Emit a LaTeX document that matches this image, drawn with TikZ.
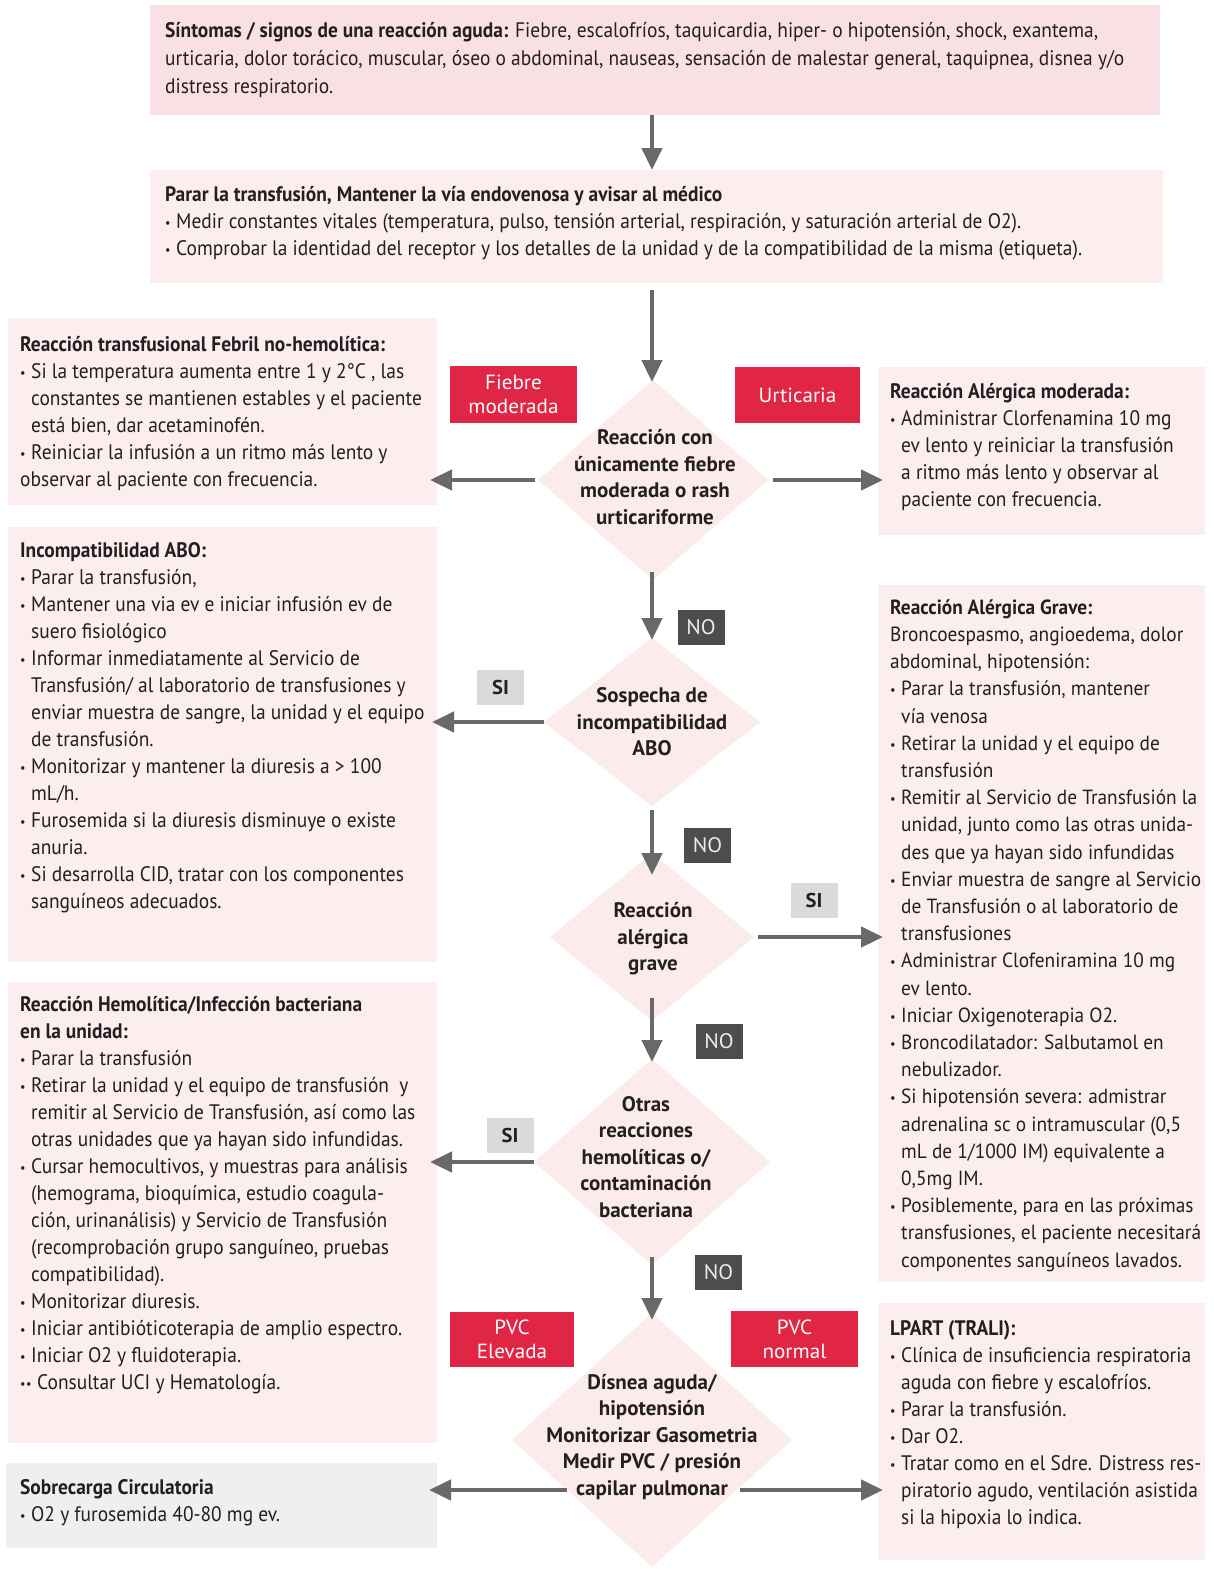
\documentclass[tikz,border=0pt]{standalone}
\usepackage{fontspec}
\setmainfont[FakeStretch=0.925]{PT Sans}
\newfontfamily\widefont[FakeStretch=0.943]{PT Sans}
\newfontfamily\diafont[FakeStretch=1.0]{PT Sans}
\newfontfamily\labfont[FakeStretch=1.03]{PT Sans}
\usetikzlibrary{shapes.geometric,arrows.meta}
\definecolor{pinkA}{RGB}{249,224,228}
\definecolor{pinkB}{RGB}{252,237,238}
\definecolor{dia}{RGB}{251,235,235}
\definecolor{grayB}{RGB}{239,239,239}
\definecolor{redL}{RGB}{225,37,68}
\definecolor{noL}{RGB}{77,77,77}
\definecolor{siL}{RGB}{218,218,218}
\definecolor{arrc}{RGB}{105,105,107}
\definecolor{ink}{RGB}{35,31,32}
\newcommand\bl{\makebox[11pt][l]{\raisebox{1pt}{\fontsize{13}{13}\selectfont\textbullet}}}
\newcommand\ind{\hspace*{11pt}}
\tikzset{
  box/.style={inner sep=0pt, outer sep=0pt, anchor=north west, fill=pinkB},
  txt/.style={anchor=north west, align=left, inner sep=0pt, text=ink, font=\fontsize{21}{27}\selectfont},
  ttxt/.style={txt, font=\fontsize{21}{28}\selectfont},
  wtxt/.style={txt, font=\widefont\fontsize{20.5}{27.2}\selectfont},
  diam/.style={diamond, fill=dia, inner sep=0pt, outer sep=0pt},
  dtxt/.style={align=center, inner sep=0pt, text=ink, font=\diafont\bfseries\fontsize{21}{26.5}\selectfont},
  redlab/.style={fill=redL, text=white, inner sep=0pt, align=center, font=\labfont\fontsize{20.5}{24}\selectfont},
  nolab/.style={fill=noL, text=white!92!black, inner sep=0pt, minimum width=47pt, minimum height=35pt, font=\labfont\fontsize{21}{24}\selectfont},
  silab/.style={fill=siL, text=ink, inner sep=0pt, minimum width=47pt, minimum height=35pt, font=\labfont\bfseries\fontsize{20}{24}\selectfont},
  arr/.style={draw=arrc, line width=4.5pt, -{Triangle[length=22pt,width=20pt]}}
}
\begin{document}
\begin{tikzpicture}[x=1pt,y=-1pt]
\useasboundingbox[fill=white] (0,0) rectangle (1213,1569);

% boxes
\node[box, fill=pinkA, minimum width=1010pt, minimum height=110pt] (top) at (150,5) {};
\node[box, minimum width=1013pt, minimum height=113pt] (second) at (150,170) {};
\node[box, minimum width=429pt, minimum height=187pt] (b1) at (8,318) {};
\node[box, minimum width=327pt, minimum height=168pt] (r1) at (878,367) {};
\node[box, minimum width=429pt, minimum height=435pt] (b2) at (8,527) {};
\node[box, minimum width=327pt, minimum height=697pt] (r2) at (878,585) {};
\node[box, minimum width=429pt, minimum height=461pt] (b3) at (8,982) {};
\node[box, fill=grayB, minimum width=431pt, minimum height=85pt] (b4) at (6,1463) {};
\node[box, minimum width=327pt, minimum height=257pt] (r3) at (878,1303) {};

% diamonds
\node[diam, minimum width=230pt, minimum height=200pt] (d1) at (653,480) {};
\node[diam, minimum width=216pt, minimum height=168pt] (d2) at (652,722) {};
\node[diam, minimum width=204pt, minimum height=168pt] (d3) at (652,937) {};
\node[diam, minimum width=236pt, minimum height=206pt] (d4) at (652,1162) {};
\node[diam, minimum width=280pt, minimum height=254pt] (d5) at (652,1440) {};

% texts
\node[ttxt] (ttop) at (165,18) {\strut\textbf{Síntomas / signos de una reacción aguda:} Fiebre, escalofríos, taquicardia, hiper- o hipotensión, shock, exantema,\\
urticaria, dolor torácico, muscular, óseo o abdominal, nauseas, sensación de malestar general, taquipnea, disnea y/o\\
distress respiratorio.};

\node[txt] (tsecond) at (165,182) {\strut\textbf{Parar la transfusión, Mantener la vía endovenosa y avisar al médico}\\
\bl Medir constantes vitales (temperatura, pulso, tensión arterial, respiración, y saturación arterial de O2).\\
\bl Comprobar la identidad del receptor y los detalles de la unidad y de la compatibilidad de la misma (etiqueta).};

\node[txt] (tb1) at (20,332) {\strut\textbf{Reacción transfusional Febril no-hemolítica:}\\
\bl Si la temperatura aumenta entre 1 y 2°C , las\\
\ind constantes se mantienen estables y el paciente\\
\ind está bien, dar acetaminofén.\\
\bl Reiniciar la infusión a un ritmo más lento y\\
observar al paciente con frecuencia.};

\node[txt] (tr1) at (890,379) {\strut\textbf{Reacción Alérgica moderada:}\\
\bl Administrar Clorfenamina 10 mg\\
\ind ev lento y reiniciar la transfusión\\
\ind a ritmo más lento y observar al\\
\ind paciente con frecuencia.};

\node[txt] (tb2) at (20,538) {\strut\textbf{Incompatibilidad ABO:}\\
\bl Parar la transfusión,\\
\bl Mantener una via ev e iniciar infusión ev de\\
\ind suero fisiológico\\
\bl Informar inmediatamente al Servicio de\\
\ind Transfusión/ al laboratorio de transfusiones y\\
\ind enviar muestra de sangre, la unidad y el equipo\\
\ind de transfusión.\\
\bl Monitorizar y mantener la diuresis a > 100\\
\ind mL/h.\\
\bl Furosemida si la diuresis disminuye o existe\\
\ind anuria.\\
\bl Si desarrolla CID, tratar con los componentes\\
\ind sanguíneos adecuados.};

\node[wtxt] (tr2) at (890,595) {\strut\textbf{Reacción Alérgica Grave:}\\
Broncoespasmo, angioedema, dolor\\
abdominal, hipotensión:\\
\bl Parar la transfusión, mantener\\
\ind vía venosa\\
\bl Retirar la unidad y el equipo de\\
\ind transfusión\\
\bl Remitir al Servicio de Transfusión la\\
\ind unidad, junto como las otras unida-\\
\ind des que ya hayan sido infundidas\\
\bl Enviar muestra de sangre al Servicio\\
\ind de Transfusión o al laboratorio de\\
\ind transfusiones\\
\bl Administrar Clofeniramina 10 mg\\
\ind ev lento.\\
\bl Iniciar Oxigenoterapia O2.\\
\bl Broncodilatador: Salbutamol en\\
\ind nebulizador.\\
\bl Si hipotensión severa: admistrar\\
\ind adrenalina sc o intramuscular (0,5\\
\ind mL de 1/1000 IM) equivalente a\\
\ind 0,5mg IM.\\
\bl Posiblemente, para en las próximas\\
\ind transfusiones, el paciente necesitará\\
\ind componentes sanguíneos lavados.};

\node[txt] (tb3) at (20,992) {\strut\textbf{Reacción Hemolítica/Infección bacteriana}\\
\textbf{en la unidad:}\\
\bl Parar la transfusión\\
\bl Retirar la unidad y el equipo de transfusión~ y\\
\ind remitir al Servicio de Transfusión, así como las\\
\ind otras unidades que ya hayan sido infundidas.\\
\bl Cursar hemocultivos, y muestras para análisis\\
\ind (hemograma, bioquímica, estudio coagula-\\
\ind ción, urinanálisis) y Servicio de Transfusión\\
\ind (recomprobación grupo sanguíneo, pruebas\\
\ind compatibilidad).\\
\bl Monitorizar diuresis.\\
\bl Iniciar antibióticoterapia de amplio espectro.\\
\bl Iniciar O2 y fluidoterapia.\\
\makebox[6pt][l]{\raisebox{1pt}{\fontsize{13}{13}\selectfont\textbullet}}\bl Consultar UCI y Hematología.};

\node[txt] (tb4) at (20,1475) {\strut\textbf{Sobrecarga Circulatoria}\\
\bl O2 y furosemida 40-80 mg ev.};

\node[txt] (tr3) at (890,1316) {\strut\textbf{LPART (TRALI):}\\
\bl Clínica de insuficiencia respiratoria\\
\ind aguda con fiebre y escalofríos.\\
\bl Parar la transfusión.\\
\bl Dar O2.\\
\bl Tratar como en el Sdre. Distress res-\\
\ind piratorio agudo, ventilación asistida\\
\ind si la hipoxia lo indica.};

% diamond texts
\node[dtxt] (td1) at (655,477) {Reacción con\\únicamente fiebre\\moderada o rash\\urticariforme};
\node[dtxt] (td2) at (652,722) {Sospecha de\\incompatibilidad\\ABO};
\node[dtxt] (td3) at (653,939) {Reacción\\alérgica\\grave};
\node[dtxt] (td4) at (646,1157) {Otras\\reacciones\\hemolíticas o/\\contaminación\\bacteriana};
\node[dtxt] (td5) at (652,1437) {Dísnea aguda/\\hipotensión\\Monitorizar Gasometria\\Medir PVC / presión\\capilar pulmonar};

% labels
\node[redlab, minimum width=127pt, minimum height=57pt] (lfm) at (513.5,394.5) {Fiebre\\moderada};
\node[redlab, minimum width=125pt, minimum height=56pt] (lurt) at (797.5,395) {Urticaria};
\node[redlab, minimum width=124pt, minimum height=55pt] (lpe) at (512,1339.5) {PVC\\Elevada};
\node[redlab, minimum width=127pt, minimum height=56pt] (lpn) at (794.5,1339) {PVC\\normal};
\node[nolab] (no1) at (701,627) {NO};
\node[nolab] (no2) at (707.5,845.5) {NO};
\node[nolab] (no3) at (719,1041.5) {NO};
\node[nolab] (no4) at (718.5,1272.5) {NO};
\node[silab] (si1) at (500.5,687.5) {SI};
\node[silab] (si2) at (814,900.5) {SI};
\node[silab] (si3) at (510,1135.5) {SI};

% connectors
\coordinate (l5) at (567,1490);
\coordinate (r5) at (740,1490);
\draw[arr] (top.south -| d2) -- (second.north -| d2);
\draw[arr] ([yshift=-7pt]second.south -| d2) -- ([yshift=-2pt]d1.north -| d2);
\draw[arr] ([yshift=8pt]d1.south -| d2) -- ([yshift=-2pt]d2.north);
\draw[arr] ([yshift=-4pt]d2.south) -- ([yshift=-22pt]d3.north);
\draw[arr] ([yshift=23pt]d3.south) -- ([yshift=-3pt]d4.north);
\draw[arr] ([yshift=8pt]d4.south) -- ([yshift=-7pt]d5.north);
\draw[arr, shorten <=3pt, shorten >=-7pt] (d1.west) -- (d1.west -| b1.east);
\draw[arr, shorten <=5pt, shorten >=-5pt] (d1.east) -- (d1.east -| r1.west);
\draw[arr, shorten >=-5pt] (d2.west) -- (d2.west -| b2.east);
\draw[arr, shorten <=4pt, shorten >=-5pt] (d3.east) -- (d3.east -| r2.west);
\draw[arr, shorten >=-7pt] (d4.west) -- (d4.west -| b3.east);
\draw[arr, shorten >=-8pt] (l5) -- (l5 -| b4.east);
\draw[arr, shorten >=-5pt] (r5) -- (r5 -| r3.west);
\end{tikzpicture}
\end{document}
